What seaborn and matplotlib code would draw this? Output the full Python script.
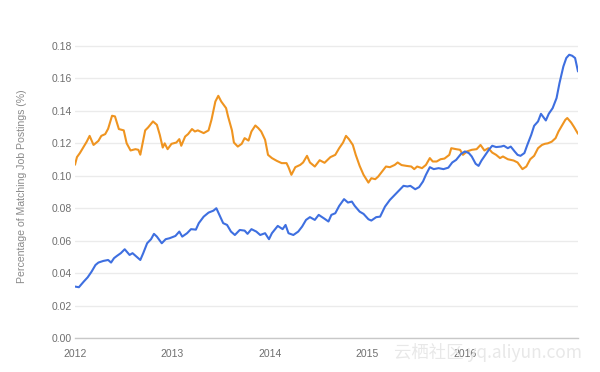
import matplotlib
matplotlib.use("Agg")
import matplotlib.pyplot as plt
import seaborn as sns
import pandas as pd

# ---- data ----
orange_x = [2012.00, 2012.02, 2012.05, 2012.09, 2012.12, 2012.15, 2012.19, 2012.24, 2012.27, 2012.31,
            2012.34, 2012.38, 2012.41, 2012.45, 2012.50, 2012.53, 2012.57, 2012.62, 2012.65, 2012.67,
            2012.72, 2012.75, 2012.80, 2012.84, 2012.87, 2012.90, 2012.92, 2012.95, 2012.99, 2013.04,
            2013.07, 2013.09, 2013.13, 2013.16, 2013.20, 2013.23, 2013.26, 2013.32, 2013.37, 2013.40,
            2013.44, 2013.47, 2013.50, 2013.55, 2013.57, 2013.61, 2013.63, 2013.67, 2013.71, 2013.74,
            2013.78, 2013.81, 2013.85, 2013.88, 2013.91, 2013.95, 2013.98, 2014.02, 2014.07, 2014.12,
            2014.17, 2014.19, 2014.22, 2014.26, 2014.31, 2014.34, 2014.38, 2014.41, 2014.46, 2014.51,
            2014.56, 2014.62, 2014.67, 2014.71, 2014.75, 2014.78, 2014.81, 2014.85, 2014.88, 2014.92,
            2014.96, 2015.01, 2015.04, 2015.08, 2015.11, 2015.15, 2015.19, 2015.23, 2015.28, 2015.31,
            2015.35, 2015.40, 2015.45, 2015.48, 2015.51, 2015.56, 2015.60, 2015.64, 2015.67, 2015.71,
            2015.75, 2015.79, 2015.84, 2015.86, 2015.91, 2015.95, 2015.98, 2016.02, 2016.07, 2016.12,
            2016.16, 2016.20, 2016.24, 2016.28, 2016.32, 2016.36, 2016.39, 2016.44, 2016.50, 2016.54,
            2016.59, 2016.63, 2016.67, 2016.71, 2016.75, 2016.79, 2016.82, 2016.85, 2016.89, 2016.93,
            2016.96, 2017.00, 2017.03, 2017.05, 2017.09, 2017.12, 2017.16]
orange_y = [0.1068, 0.1115, 0.1140, 0.1180, 0.1210, 0.1246, 0.1190, 0.1215, 0.1246, 0.1257,
            0.1290, 0.1370, 0.1366, 0.1288, 0.1280, 0.1200, 0.1156, 0.1164, 0.1160, 0.1130,
            0.1280, 0.1298, 0.1335, 0.1314, 0.1252, 0.1174, 0.1200, 0.1164, 0.1197, 0.1205,
            0.1226, 0.1185, 0.1242, 0.1257, 0.1288, 0.1273, 0.1280, 0.1263, 0.1280, 0.1345,
            0.1458, 0.1493, 0.1458, 0.1417, 0.1366, 0.1280, 0.1205, 0.1180, 0.1197, 0.1232,
            0.1217, 0.1273, 0.1310, 0.1294, 0.1273, 0.1222, 0.1129, 0.1109, 0.1092, 0.1078,
            0.1078, 0.1053, 0.1006, 0.1053, 0.1067, 0.1082, 0.1123, 0.1082, 0.1057, 0.1096,
            0.1080, 0.1115, 0.1129, 0.1170, 0.1205, 0.1246, 0.1226, 0.1190, 0.1129, 0.1061,
            0.1006, 0.0958, 0.0985, 0.0979, 0.0995, 0.1026, 0.1057, 0.1053, 0.1067, 0.1082,
            0.1066, 0.1061, 0.1057, 0.1041, 0.1057, 0.1047, 0.1067, 0.1109, 0.1088, 0.1088,
            0.1102, 0.1106, 0.1129, 0.1170, 0.1164, 0.1160, 0.1129, 0.1150, 0.1160, 0.1164,
            0.1190, 0.1156, 0.1170, 0.1143, 0.1129, 0.1109, 0.1119, 0.1102, 0.1094, 0.1082,
            0.1041, 0.1057, 0.1102, 0.1123, 0.1170, 0.1190, 0.1197, 0.1200, 0.1210, 0.1232,
            0.1273, 0.1314, 0.1345, 0.1356, 0.1328, 0.1300, 0.1259]

blue_x = [2012.00, 2012.04, 2012.09, 2012.13, 2012.17, 2012.21, 2012.24, 2012.29, 2012.34, 2012.37,
          2012.40, 2012.43, 2012.47, 2012.51, 2012.56, 2012.59, 2012.63, 2012.67, 2012.70, 2012.74,
          2012.78, 2012.81, 2012.84, 2012.89, 2012.93, 2012.97, 2013.03, 2013.07, 2013.10, 2013.15,
          2013.19, 2013.24, 2013.27, 2013.32, 2013.37, 2013.42, 2013.45, 2013.49, 2013.52, 2013.56,
          2013.60, 2013.64, 2013.69, 2013.74, 2013.77, 2013.81, 2013.86, 2013.90, 2013.95, 2013.99,
          2014.02, 2014.08, 2014.13, 2014.16, 2014.19, 2014.24, 2014.29, 2014.33, 2014.37, 2014.41,
          2014.46, 2014.50, 2014.56, 2014.60, 2014.63, 2014.67, 2014.71, 2014.76, 2014.80, 2014.84,
          2014.87, 2014.92, 2014.96, 2015.01, 2015.04, 2015.09, 2015.13, 2015.18, 2015.23, 2015.28,
          2015.33, 2015.37, 2015.41, 2015.44, 2015.49, 2015.53, 2015.57, 2015.60, 2015.64, 2015.68,
          2015.73, 2015.78, 2015.83, 2015.87, 2015.91, 2015.96, 2016.00, 2016.04, 2016.07, 2016.11,
          2016.14, 2016.17, 2016.21, 2016.25, 2016.28, 2016.32, 2016.37, 2016.40, 2016.44, 2016.47,
          2016.51, 2016.54, 2016.57, 2016.61, 2016.64, 2016.68, 2016.71, 2016.75, 2016.78, 2016.80,
          2016.83, 2016.86, 2016.90, 2016.94, 2016.97, 2017.01, 2017.04, 2017.07, 2017.10, 2017.13,
          2017.16]
blue_y = [0.0317, 0.0313, 0.0348, 0.0374, 0.0409, 0.0450, 0.0465, 0.0475, 0.0481, 0.0465,
          0.0492, 0.0506, 0.0523, 0.0547, 0.0512, 0.0523, 0.0502, 0.0481, 0.0523, 0.0584,
          0.0609, 0.0642, 0.0625, 0.0584, 0.0609, 0.0615, 0.0629, 0.0656, 0.0625, 0.0646,
          0.0671, 0.0668, 0.0708, 0.0748, 0.0773, 0.0785, 0.0800, 0.0748, 0.0708, 0.0697,
          0.0656, 0.0635, 0.0666, 0.0662, 0.0642, 0.0671, 0.0656, 0.0635, 0.0646, 0.0609,
          0.0646, 0.0691, 0.0671, 0.0697, 0.0646, 0.0635, 0.0656, 0.0687, 0.0728, 0.0745,
          0.0728, 0.0759, 0.0735, 0.0718, 0.0759, 0.0769, 0.0814, 0.0856, 0.0835, 0.0841,
          0.0814, 0.0779, 0.0765, 0.0732, 0.0724, 0.0745, 0.0748, 0.0810, 0.0851, 0.0882,
          0.0913, 0.0938, 0.0934, 0.0938, 0.0917, 0.0930, 0.0965, 0.1006, 0.1053, 0.1041,
          0.1047, 0.1041, 0.1050, 0.1082, 0.1098, 0.1135, 0.1150, 0.1140, 0.1119, 0.1074,
          0.1061, 0.1094, 0.1129, 0.1164, 0.1185, 0.1177, 0.1180, 0.1185, 0.1170, 0.1180,
          0.1150, 0.1129, 0.1123, 0.1140, 0.1190, 0.1252, 0.1308, 0.1335, 0.1382, 0.1366,
          0.1341, 0.1382, 0.1417, 0.1479, 0.1571, 0.1674, 0.1726, 0.1746, 0.1740, 0.1726,
          0.1643]

year_ticks = [2012, 2013, 2014, 2015, 2016]
year_labels = ["2012", "2013", "2014", "2015", "2016"]
y_ticks = [0.00, 0.02, 0.04, 0.06, 0.08, 0.10, 0.12, 0.14, 0.16, 0.18]
y_label = "Percentage of Matching Job Postings (%)"
watermark = "云栖社区 yq.aliyun.com"

# ---- styling ----
sns.set_theme(style="white")
plt.rcParams['font.family'] = ['Liberation Sans', 'DejaVu Sans']

W, H = 600, 372
fig = plt.figure(figsize=(W / 100, H / 100), dpi=100)
ymax = 0.1815
left, right, bottom, top_grid = 75, 578, 338, 46
ax_h = (bottom - top_grid) / H * ymax / 0.18
ax = fig.add_axes([left / W, 1 - bottom / H, (right - left) / W, ax_h])

df_o = pd.DataFrame({"x": orange_x, "y": orange_y})
df_b = pd.DataFrame({"x": blue_x, "y": blue_y})

# faint watermark behind everything
fig.text(394 / W, 1 - 352 / H, watermark, fontsize=12.5, color="#e8e8e8",
         family=['Noto Sans CJK SC', 'DejaVu Sans'], va="center", ha="left", zorder=0)

sns.lineplot(data=df_o, x="x", y="y", ax=ax, color="#ef9420", linewidth=1.5, zorder=3)
sns.lineplot(data=df_b, x="x", y="y", ax=ax, color="#3e6fe0", linewidth=1.5, zorder=4)

ax.set_xlim(2012, 2017.16)
ax.set_ylim(0, ymax)
ax.set_xticks(year_ticks)
ax.set_xticklabels(year_labels)
ax.set_yticks(y_ticks)
ax.set_yticklabels([f"{v:.2f}" for v in y_ticks])
ax.set_xlabel("")
ax.set_ylabel("")

ax.yaxis.grid(True, color="#ebebeb", linewidth=1.0)
ax.xaxis.grid(False)
ax.set_axisbelow(True)
for s in ["top", "right", "left"]:
    ax.spines[s].set_visible(False)
ax.spines["bottom"].set_color("#c8c8c8")
ax.spines["bottom"].set_linewidth(1.0)
ax.patch.set_alpha(0)

ax.tick_params(axis="y", length=0, pad=2.5, labelsize=7.5, labelcolor="#6f6f6f")
ax.tick_params(axis="x", length=0, pad=8, labelsize=7.5, labelcolor="#6f6f6f")

fig.text(22 / W, 1 - 186.5 / H, y_label, rotation=90, fontsize=7.6, color="#8a8a8a",
         va="center", ha="center")

fig.savefig("out.png", dpi=100, facecolor="white")
